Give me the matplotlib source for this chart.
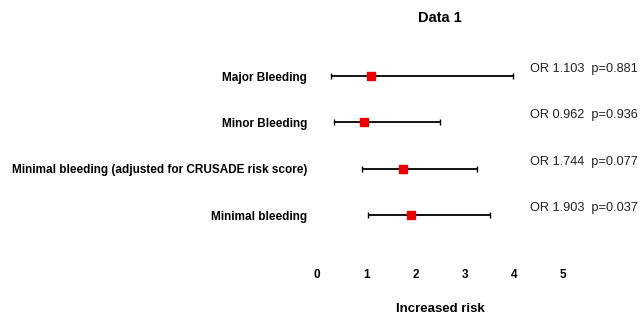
import matplotlib
matplotlib.use('Agg')
import matplotlib.pyplot as plt
from matplotlib.transforms import blended_transform_factory

plt.rcParams['font.family'] = ['Liberation Sans', 'DejaVu Sans']

labels = ['Major Bleeding', 'Minor Bleeding',
          'Minimal bleeding (adjusted for CRUSADE risk score)', 'Minimal bleeding']
odds = [1.103, 0.962, 1.744, 1.903]
low = [0.29, 0.35, 0.92, 1.04]
high = [3.98, 2.49, 3.25, 3.51]
pvals = ['0.881', '0.936', '0.077', '0.037']
ticks = [0, 1, 2, 3, 4, 5]

fig = plt.figure(figsize=(6.43, 3.15), dpi=100)
ax = fig.add_axes([317 / 643, 1 - 255 / 315, 326 / 643, 210 / 315])

ypos = [4, 3, 2, 1]
for y, o, lo, hi, p in zip(ypos, odds, low, high, pvals):
    ax.errorbar(o, y, xerr=[[o - lo], [hi - o]], fmt='s', color='black',
                ecolor='black', elinewidth=1.3, capsize=2.5, capthick=1.0,
                markersize=5.5, markerfacecolor='#ee0000', markeredgecolor='#ee0000')
    ax.text(4.33, y + 0.15, 'OR %.3f  p=%s' % (o, p), fontsize=9.2,
            color='#222222', va='center', ha='left')

ax.set_xlim(0, 326 / 49.2)
ax.set_ylim(0.14, 4.67)
ax.set_xticks(ticks)
ax.set_xticklabels([str(t) for t in ticks], fontweight='bold', fontsize=8.5)
ax.set_yticks(ypos)
ax.set_yticklabels(labels, fontweight='bold', fontsize=8.45)
ax.tick_params(axis='x', length=0, pad=10)
ax.tick_params(axis='y', length=0, pad=7)
for s in ax.spines.values():
    s.set_visible(False)

tr = blended_transform_factory(ax.transData, fig.transFigure)
ax.text(2.5, 1 - 18 / 315, 'Data 1', transform=tr,
        ha='center', va='center', fontweight='bold', fontsize=10.5)
ax.text(2.5, 1 - 309 / 315, 'Increased risk', transform=tr,
        ha='center', va='center', fontweight='bold', fontsize=9.5)

fig.savefig('out.png', dpi=100)
